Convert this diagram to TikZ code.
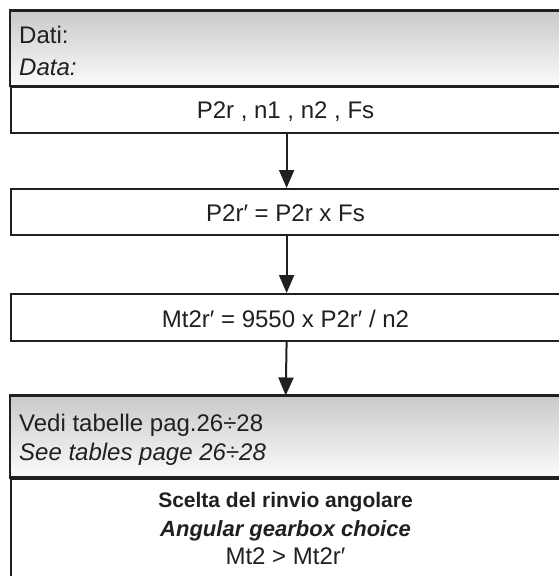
\documentclass[tikz,border=0pt]{standalone}
\usepackage{fontspec}
\setmainfont{Liberation Sans}
\usetikzlibrary{arrows.meta}
\definecolor{ink}{HTML}{231F20}
\definecolor{gtop}{HTML}{C8C9CB}
\definecolor{gbot}{HTML}{FBFBFB}
\begin{document}
\begin{tikzpicture}[x=1pt,y=1pt,
  frame/.style={draw=ink,line width=2.2pt,fill=white},
  hdr/.style={draw=ink,line width=2.2pt,top color=gtop,bottom color=gbot},
  txt/.style={inner sep=0pt,font=\fontsize{24}{28}\selectfont,text=ink},
  btxt/.style={inner sep=0pt,font=\fontsize{21}{25}\selectfont\bfseries,text=ink},
  bitxt/.style={inner sep=0pt,font=\fontsize{22}{25}\selectfont\bfseries\itshape,text=ink},
  flow/.style={draw=ink,line width=2pt,-{Triangle[width=15pt,length=18pt]}}]
\useasboundingbox (0,0) rectangle (559,-576);
% boxes
\path[hdr] (10,-10.5) rectangle (561,-86);
\node[inner sep=0pt,minimum width=551pt,minimum height=75.5pt,anchor=north west] (h1) at (10,-10.5) {};
\node[frame,inner sep=0pt,minimum width=551pt,minimum height=45.5pt,anchor=north west] (b1) at (10,-86) {};
\node[frame,inner sep=0pt,minimum width=551pt,minimum height=46pt,anchor=north west] (b2) at (10,-188) {};
\node[frame,inner sep=0pt,minimum width=551pt,minimum height=46.5pt,anchor=north west] (b3) at (10,-293) {};
\node[frame,inner sep=0pt,minimum width=551pt,minimum height=115pt,anchor=north west] (b4) at (10,-477.5) {};
\path[hdr] (10,-395.5) rectangle (561,-477.5);
\node[inner sep=0pt,minimum width=551pt,minimum height=82pt,anchor=north west] (h4) at (10,-395.5) {};
% texts
\node[txt,anchor=base west] (t1a) at (19,-43) {Dati:};
\node[txt,anchor=base west] (t1b) at (19,-75) {\itshape Data:};
\node[txt,anchor=base] (t2) at (285.5,-118.5) {P2r , n1 , n2 , Fs};
\node[txt,anchor=base] (t3) at (285.5,-221) {P2r′ = P2r x Fs};
\node[txt,anchor=base] (t4) at (285.5,-327.5) {Mt2r′ = 9550 x P2r′ / n2};
\node[txt,anchor=base west] (t5a) at (19,-431.5) {Vedi tabelle pag.26÷28};
\node[txt,anchor=base west] (t5b) at (19,-460) {\itshape See tables page 26÷28};
\node[btxt,anchor=base] (t6a) at (285.5,-507.5) {Scelta del rinvio angolare};
\node[bitxt,anchor=base] (t6b) at (285.5,-536) {Angular gearbox choice};
\node[txt,anchor=base] (t6c) at (285.5,-564.5) {Mt2 > Mt2r′};
% connectors
\draw[flow] (b1.south) -- (b2.north);
\draw[flow] (b2.south) -- (b3.north);
\draw[flow] (b3.south) -- (h4.north);
\end{tikzpicture}
\end{document}
